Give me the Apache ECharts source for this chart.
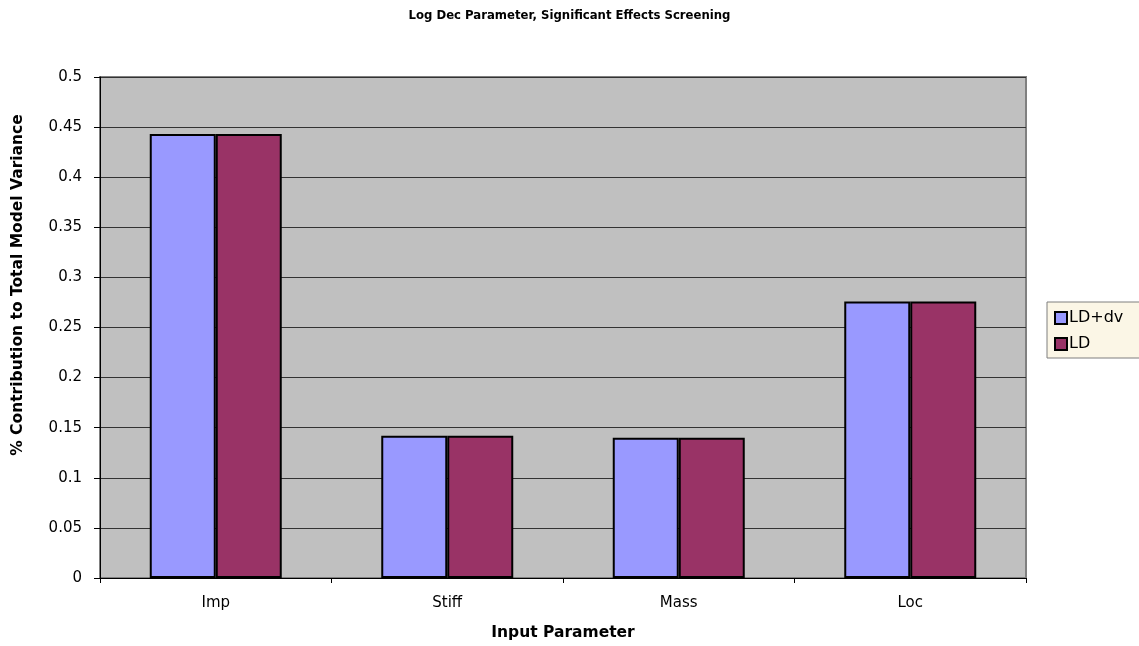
<!DOCTYPE html>
<html>
<head>
<meta charset="utf-8">
<style>
  html, body { margin: 0; padding: 0; background: #fff; }
  #chart { width: 1139px; height: 646px; }
</style>
<script src="https://cdn.jsdelivr.net/npm/echarts@6/dist/echarts.min.js"></script>
</head>
<body>
<div id="chart"></div>
<script>
// Screening results: share of total model variance per input parameter
const categories = ['Imp', 'Stiff', 'Mass', 'Loc'];
const seriesNames = ['LD+dv', 'LD'];
const ldDvValues = [0.443, 0.142, 0.140, 0.276];
const ldValues = [0.443, 0.142, 0.140, 0.276];
const yTicks = { min: 0, max: 0.5, step: 0.05 };

const font = '"DejaVu Sans", Verdana, sans-serif';
const chart = echarts.init(document.getElementById('chart'));

chart.setOption({
  animation: false,
  backgroundColor: '#ffffff',
  title: {
    text: 'Log Dec Parameter, Significant Effects Screening',
    left: 'center',
    top: 5,
    textStyle: { fontFamily: font, fontSize: 11.7, fontWeight: 'bold', color: '#000' }
  },
  legend: {
    orient: 'vertical',
    left: 1047,
    top: 302,
    padding: [8, 40, 6, 7],
    itemGap: 10,
    itemWidth: 12,
    itemHeight: 12,
    icon: 'rect',
    backgroundColor: '#fbf6e6',
    borderColor: '#7f7f7f',
    borderWidth: 1,
    borderRadius: 0,
    itemStyle: { borderColor: '#000', borderWidth: 2 },
    textStyle: { fontFamily: font, fontSize: 16, color: '#000', padding: [0, 0, 0, -3] },
    data: seriesNames
  },
  graphic: [{
    type: 'text',
    x: 18,
    y: 285,
    rotation: Math.PI / 2,
    style: {
      text: '% Contribution to Total Model Variance',
      fontFamily: font,
      fontSize: 15.5,
      fontWeight: 'bold',
      fill: '#000',
      align: 'center',
      verticalAlign: 'middle'
    }
  }],
  grid: {
    left: 100,
    right: 113,
    top: 77,
    bottom: 67,
    show: true,
    backgroundColor: '#c0c0c0',
    borderColor: '#808080',
    borderWidth: 2
  },
  xAxis: {
    type: 'category',
    data: categories,
    name: 'Input Parameter',
    nameLocation: 'middle',
    nameGap: 47,
    nameTextStyle: { fontFamily: font, fontSize: 15.5, fontWeight: 'bold', color: '#000' },
    axisLine: { lineStyle: { color: '#000', width: 1 } },
    axisTick: { show: true, length: 5, lineStyle: { color: '#000' } },
    axisLabel: { fontFamily: font, fontSize: 15, color: '#000', margin: 18 }
  },
  yAxis: {
    type: 'value',
    min: yTicks.min,
    max: yTicks.max,
    interval: yTicks.step,
    axisLine: { show: true, lineStyle: { color: '#000', width: 1 } },
    axisTick: { show: true, length: 6, lineStyle: { color: '#000' } },
    axisLabel: { fontFamily: font, fontSize: 15, color: '#000', margin: 18 },
    splitLine: { show: true, lineStyle: { color: '#333', width: 1 } }
  },
  series: [
    {
      name: seriesNames[0],
      type: 'bar',
      data: ldDvValues,
      barWidth: 66,
      barGap: '0%',
      itemStyle: { color: '#9999ff', borderColor: '#000', borderWidth: 2 }
    },
    {
      name: seriesNames[1],
      type: 'bar',
      data: ldValues,
      barWidth: 66,
      barGap: '0%',
      itemStyle: { color: '#993366', borderColor: '#000', borderWidth: 2 }
    }
  ]
});
</script>
</body>
</html>
